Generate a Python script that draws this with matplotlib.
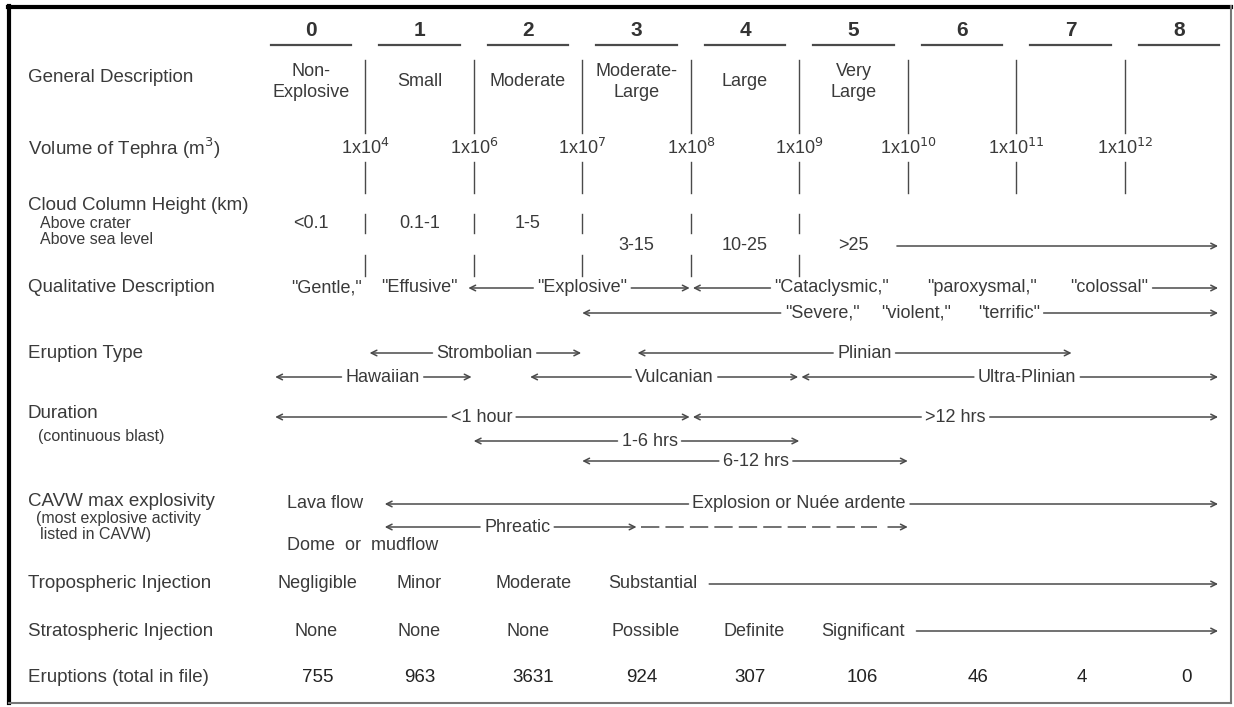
import matplotlib
matplotlib.use("Agg")
import matplotlib.pyplot as plt

plt.rcParams['font.family'] = ['Liberation Sans', 'DejaVu Sans']

# ---- data (x positions in VEI column units) ----
vei = list(range(9))
general_desc = ["Non-\nExplosive", "Small", "Moderate", "Moderate-\nLarge", "Large", "Very\nLarge"]
tephra_exp = [4, 6, 7, 8, 9, 10, 11, 12]
cloud_crater = ["<0.1", "0.1-1", "1-5"]
cloud_sea = ["3-15", "10-25", ">25"]
tropo = ["Negligible", "Minor", "Moderate", "Substantial"]
tropo_pos = [0.06, 1.0, 2.05, 3.15]
strato = ["None", "None", "None", "Possible", "Definite", "Significant"]
strato_pos = [0.05, 1.0, 2.0, 3.08, 4.08, 5.09]
eruptions = [755, 963, 3631, 924, 307, 106, 46, 4, 0]
eruption_pos = [0.06, 1.0, 2.05, 3.05, 4.05, 5.08, 6.15, 7.1, 8.07]

END = 8.36
# (y row, start, end, [(label, pos)], left head, right head)
qual_spans = [
    (288, 1.45, 3.49, [('"Explosive"', 2.5)], True, True),
    (288, 3.52, END, [('"Cataclysmic,"', 4.8), ('"paroxysmal,"', 6.18), ('"colossal"', 7.36)], True, True),
    (313, 2.5, END, [('"Severe,"', 4.71), ('"violent,"', 5.58), ('"terrific"', 6.43)], True, True),
]
type_spans = [
    (353, 0.54, 2.49, [("Strombolian", 1.6)], True, True),
    (353, 3.01, 7.01, [("Plinian", 5.1)], True, True),
    (377, -0.33, 1.48, [("Hawaiian", 0.66)], True, True),
    (377, 2.02, 4.49, [("Vulcanian", 3.35)], True, True),
    (377, 4.52, END, [("Ultra-Plinian", 6.6)], True, True),
]
duration_spans = [
    (417, -0.33, 3.49, [("<1 hour", 1.57)], True, True),
    (417, 3.52, END, [(">12 hrs", 5.94)], True, True),
    (441, 1.5, 4.5, [("1-6 hrs", 3.12)], True, True),
    (461, 2.5, 5.5, [("6-12 hrs", 4.1)], True, True),
]
cavw_spans = [
    (504, 0.68, END, [("Explosion or Nuée ardente", 4.5)], True, True),
    (527, 0.68, 3.0, [("Phreatic", 1.9)], True, True),
]
open_arrows = [(246, 5.4, END), (584, 3.67, END), (631, 5.58, END)]

# ---- layout ----
X0, DX = 311.0, 108.5
W, H = 1234, 707
TXT = "#3a3a3a"
LINE = "#4a4a4a"
LAB = 13.5
SUB = 11.5
BODY = 13


def px(x):
    return (x - X0) / DX


fig = plt.figure(figsize=(W / 100, H / 100), dpi=100)
ax = fig.add_axes([0, 0, 1, 1])
ax.set_xlim(px(0), px(W))
ax.set_ylim(H, 0)
ax.axis('off')

# frame
ax.plot([px(9), px(9)], [6, 703], color='black', lw=3)
ax.plot([px(8), px(1231)], [6.5, 6.5], color='black', lw=3)
ax.plot([px(1231), px(1231)], [6, 703], color='#777777', lw=1.5)
ax.plot([px(9), px(1231)], [703, 703], color='#777777', lw=1.5)

# headings
for v in vei:
    ax.text(v, 31, str(v), ha='center', va='center', fontsize=15, fontweight='bold', color='#333333')
    ax.plot([v - 0.37, v + 0.37], [45, 45], color=LINE, lw=1.6)

# row labels
row_labels = [
    ("General Description", 78, LAB, 28),
    ("Volume of Tephra (m$^3$)", 148, LAB, 28),
    ("Cloud Column Height (km)", 205, LAB, 28),
    ("Above crater", 223, SUB, 40),
    ("Above sea level", 239, SUB, 40),
    ("Qualitative Description", 288, LAB, 28),
    ("Eruption Type", 353, LAB, 28),
    ("Duration", 413, LAB, 28),
    ("(continuous blast)", 437, SUB, 38),
    ("CAVW max explosivity", 501, LAB, 28),
    ("(most explosive activity", 518, SUB, 36),
    ("listed in CAVW)", 534, SUB, 40),
    ("Tropospheric Injection", 584, LAB, 28),
    ("Stratospheric Injection", 631, LAB, 28),
    ("Eruptions (total in file)", 677, LAB, 28),
]
for s, y, fs, x in row_labels:
    ax.text(px(x), y, s, ha='left', va='center', fontsize=fs, color=TXT)

# general description
for i, s in enumerate(general_desc):
    ax.text(i, 82, s, ha='center', va='center', fontsize=BODY, color=TXT, linespacing=1.3)
bounds = [k + 0.5 for k in range(8)]
for b in bounds:
    ax.plot([b, b], [60, 133], color=LINE, lw=1)
    ax.plot([b, b], [162, 193], color=LINE, lw=1)

# tephra volume
for b, e in zip(bounds, tephra_exp):
    ax.text(b, 148, "1x10$^{%d}$" % e, ha='center', va='center', fontsize=BODY, color=TXT)

# cloud column
for i, s in enumerate(cloud_crater):
    ax.text(i, 224, s, ha='center', va='center', fontsize=BODY, color=TXT)
for i, s in enumerate(cloud_sea):
    ax.text(i + 3, 246, s, ha='center', va='center', fontsize=BODY, color=TXT)
for b in bounds[:5]:
    ax.plot([b, b], [214, 233], color=LINE, lw=1)
    ax.plot([b, b], [255, 276], color=LINE, lw=1)

# qualitative singles
ax.text(0.14, 288, '"Gentle,"', ha='center', va='center', fontsize=BODY, color=TXT)
ax.text(1.0, 288, '"Effusive"', ha='center', va='center', fontsize=BODY, color=TXT)

renderer = fig.canvas.get_renderer()
inv = ax.transData.inverted()
PAD = 4 / DX


def arrow(x0, x1, y, head=True):
    ax.annotate('', xy=(x1, y), xytext=(x0, y),
                arrowprops=dict(arrowstyle='->' if head else '-', color=LINE, lw=1.1,
                                shrinkA=0, shrinkB=0, mutation_scale=10))


def draw_span(y, start, end, labels, lhead, rhead):
    texts = [ax.text(p, y, s, ha='center', va='center', fontsize=BODY, color=TXT) for s, p in labels]
    bbs = [t.get_window_extent(renderer) for t in texts]
    left = inv.transform((bbs[0].x0, 0))[0] - PAD
    right = inv.transform((bbs[-1].x1, 0))[0] + PAD
    arrow(left, start, y, lhead)
    arrow(right, end, y, rhead)


for spans in (qual_spans, type_spans, duration_spans, cavw_spans):
    for sp in spans:
        draw_span(*sp)

for y, a, b in open_arrows:
    arrow(a, b, y)

# phreatic dashed continuation
ax.plot([3.04, px(877)], [527, 527], color=LINE, lw=1.1, linestyle=(0, (12, 4)))
arrow(px(888), 5.5, 527)

# CAVW words
ax.text(px(287), 503, "Lava flow", ha='left', va='center', fontsize=BODY, color=TXT)
ax.text(px(287), 546, "Dome  or  mudflow", ha='left', va='center', fontsize=BODY, color=TXT)

# injections
for s, p in zip(tropo, tropo_pos):
    ax.text(p, 584, s, ha='center', va='center', fontsize=BODY, color=TXT)
for s, p in zip(strato, strato_pos):
    ax.text(p, 631, s, ha='center', va='center', fontsize=BODY, color=TXT)

# eruption counts
for n, p in zip(eruptions, eruption_pos):
    ax.text(p, 677, str(n), ha='center', va='center', fontsize=13.5, color='#222222')

fig.savefig("out.png", dpi=100)
